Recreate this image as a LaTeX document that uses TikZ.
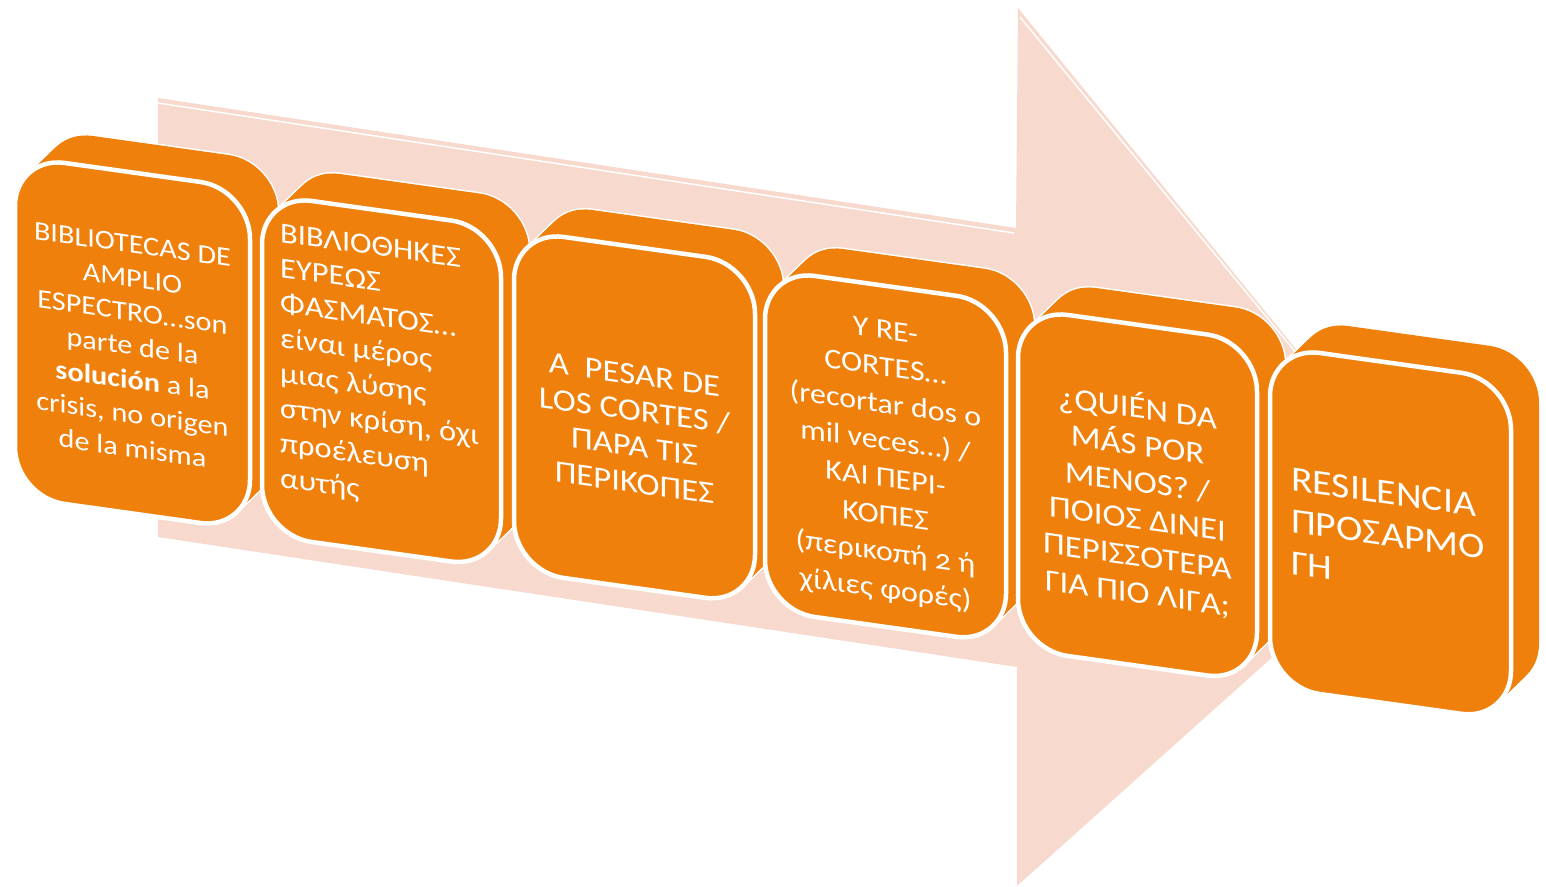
\documentclass[tikz,border=0pt]{standalone}
\usepackage{fontspec}
\setmainfont{Carlito}[FakeStretch=1.12]
\definecolor{boxor}{RGB}{239,128,12}
\definecolor{arrowpeach}{RGB}{247,217,205}
\tikzset{
  facepath/.style={rounded corners=50pt},
  sweepline/.style={draw=white,line width=3pt,facepath},
  sweepfill/.style={fill=boxor,facepath},
  frontface/.style={fill=boxor,draw=white,line width=4.5pt,facepath},
  boxtext/.style={transform shape,text=white,inner sep=0pt},
}
\newcommand\fs[2]{\fontsize{#1}{#2}\selectfont}
% #1 L, #2 T, #3 W
\newcommand\blockshape[3]{%
  \begin{scope}[shift={(#1,#2)}]
    \foreach \t in {0,...,10}{\path[sweepline,shift={(2.8*\t,-2.7*\t)},yslant=-0.14] (0,0) -- (#3,0) -- (#3,341) -- (0,341) -- cycle;}
    \foreach \t in {0,...,10}{\path[sweepfill,shift={(2.8*\t,-2.7*\t)},yslant=-0.14] (0,0) -- (#3,0) -- (#3,341) -- (0,341) -- cycle;}
    \path[frontface,yslant=-0.14] (0,0) -- (#3,0) -- (#3,341) -- (0,341) -- cycle;
  \end{scope}}
\begin{document}
\begin{tikzpicture}[x=1pt,y=-1pt]
\useasboundingbox (0,0) rectangle (1546,886);
% background arrow
\fill[arrowpeach] (158,98) coordinate (sA) -- (1016,228) -- (1018,8) -- (1431,515) coordinate (tip) -- (1017,886) -- (1017,667) -- (158,537) -- cycle;
\draw[white,line width=1.5pt] (158,103) -- (1014,233);
\draw[white,line width=1.5pt] (1020,17) -- (1380,455);
% blocks
\blockshape{15}{156}{235}
\begin{scope}[shift={(15,156)},yslant=-0.14]
  \node[boxtext,align=center,font=\fs{27}{34}] (b1) at (117.5,174) {BIBLIOTECAS DE\\AMPLIO\\ESPECTRO…son\\parte de la\\\textbf{solución} a la\\crisis, no origen\\de la misma};
\end{scope}
\blockshape{262}{194}{239}
\begin{scope}[shift={(262,194)},yslant=-0.14]
  \node[boxtext,align=left,anchor=west,font=\fs{29}{35}] (b2) at (18,161) {ΒΙΒΛΙΟΘΗΚΕΣ\\ΕΥΡΕΩΣ\\ΦΑΣΜΑΤΟΣ…\\είναι μέρος\\μιας λύσης\\στην κρίση, όχι\\προέλευση\\αυτής};
\end{scope}
\blockshape{514}{230}{241}
\begin{scope}[shift={(514,230)},yslant=-0.14]
  \node[boxtext,align=center,font=\fs{31}{36}] (b3) at (120.5,182) {A\ \ PESAR DE\\LOS CORTES /\\ΠΑΡΑ ΤΙΣ\\ΠΕΡΙΚΟΠΕΣ};
\end{scope}
\blockshape{765}{269}{241}
\begin{scope}[shift={(765,269)},yslant=-0.14]
  \node[boxtext,align=center,font=\fs{28.5}{37}] (b4) at (120.5,176) {Y RE-\\CORTES…\\(recortar dos o\\mil veces…) /\\ΚΑΙ ΠΕΡΙ-\\ΚΟΠΕΣ\\(περικοπή {\addfontfeatures{Numbers=OldStyle}2} ή\\χίλιες φορές)};
\end{scope}
\blockshape{1018}{308}{239}
\begin{scope}[shift={(1018,308)},yslant=-0.14]
  \node[boxtext,align=center,font=\fs{31}{37}] (b5) at (119.5,175) {¿QUIÉN DA\\MÁS POR\\MENOS? /\\ΠΟΙΟΣ ΔΙΝΕΙ\\ΠΕΡΙΣΣΟΤΕΡΑ\\ΓΙΑ ΠΙΟ ΛΙΓΑ;};
\end{scope}
\blockshape{1270}{346}{241}
\begin{scope}[shift={(1270,346)},yslant=-0.14]
  \node[boxtext,align=left,anchor=west,font=\fs{35.5}{42}] (b6) at (21,172) {RESILENCIA\\ΠΡΟΣΑΡΜΟ\\ΓΗ};
\end{scope}
\end{tikzpicture}
\end{document}
